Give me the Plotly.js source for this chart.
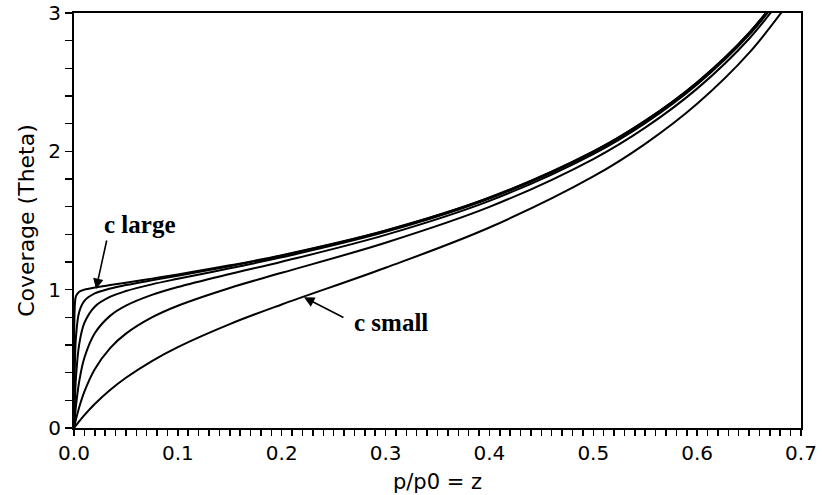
<!DOCTYPE html>
<html>
<head>
<meta charset="utf-8">
<script src="https://cdn.plot.ly/plotly-3.0.1.min.js"></script>
<style>html,body{margin:0;padding:0;background:#fff;}#chart{width:822px;height:495px;}</style>
</head>
<body>
<div id="chart"></div>
<script>
// relative pressure p/p0 = z
const z = [0, 0.001, 0.002, 0.005, 0.01, 0.02, 0.035, 0.05, 0.075, 0.1, 0.15, 0.2, 0.3, 0.4, 0.5, 0.55, 0.6, 0.65, 0.7];
// coverage (theta) for each curve, from "c small" to "c large"
const thetaC1 = [0, 0.0099, 0.0197, 0.0481, 0.0927, 0.1729, 0.2758, 0.3630, 0.4841, 0.5848, 0.7510, 0.8929, 1.1583, 1.4493, 1.8182, 2.0542, 2.3438, 2.7112, 3.1963];
const thetaC2 = [0, 0.0339, 0.0657, 0.1503, 0.2638, 0.4252, 0.5797, 0.6823, 0.7994, 0.8838, 1.0125, 1.1218, 1.3393, 1.5982, 1.9444, 2.1715, 2.4533, 2.8138, 3.2930];
const thetaC3 = [0, 0.0911, 0.1673, 0.3361, 0.5076, 0.6848, 0.8123, 0.8846, 0.9624, 1.0194, 1.1134, 1.2019, 1.3960, 1.6420, 1.9802, 2.2042, 2.4834, 2.8418, 3.3191];
const thetaC4 = [0, 0.2312, 0.3762, 0.6042, 0.7595, 0.8771, 0.9491, 0.9899, 1.0384, 1.0787, 1.1547, 1.2336, 1.4175, 1.6584, 1.9934, 2.2162, 2.4945, 2.8520, 3.3286];
const thetaC5 = [0, 0.5008, 0.6685, 0.8382, 0.9191, 0.9727, 1.0085, 1.0330, 1.0679, 1.1012, 1.1699, 1.2450, 1.4253, 1.6642, 1.9980, 2.2204, 2.4983, 2.8556, 3.3319];
const thetaC6 = [0, 0.9101, 0.9544, 0.9854, 1.0002, 1.0154, 1.0334, 1.0506, 1.0798, 1.1101, 1.1758, 1.2495, 1.4283, 1.6664, 1.9998, 2.2220, 2.4998, 2.8569, 3.3332];
const seriesList = [thetaC1, thetaC2, thetaC3, thetaC4, thetaC5, thetaC6];

const xTickVals = [0, 0.1, 0.2, 0.3, 0.4, 0.5, 0.6, 0.7];
const xTickText = ['0.0', '0.1', '0.2', '0.3', '0.4', '0.5', '0.6', '0.7'];
const yTickVals = [0, 1, 2, 3];
const yTickText = ['0', '1', '2', '3'];

const traces = seriesList.map(s => ({
  x: z, y: s, type: 'scatter', mode: 'lines',
  line: {color: '#000', width: 2, shape: 'spline', smoothing: 1},
  hoverinfo: 'skip', showlegend: false
}));

const tickFont = {family: 'DejaVu Sans, sans-serif', size: 20, color: '#000'};
const layout = {
  width: 822, height: 495,
  margin: {l: 74, r: 21, t: 13, b: 67},
  paper_bgcolor: '#fff', plot_bgcolor: '#fff',
  showlegend: false,
  xaxis: {
    range: [0, 0.7], showgrid: false, zeroline: false,
    showline: true, linecolor: '#000', linewidth: 2, mirror: true,
    ticks: 'outside', ticklen: 6, tickwidth: 1.5, tickcolor: '#000',
    tickmode: 'array', tickvals: xTickVals, ticktext: xTickText,
    minor: {dtick: 0.01, ticks: 'outside', ticklen: 6, tickwidth: 1.5, tickcolor: '#000', showgrid: false},
    tickfont: tickFont,
    title: {text: 'p/p0 = z', font: {family: 'DejaVu Sans, sans-serif', size: 21, color: '#000'}, standoff: 10}
  },
  yaxis: {
    range: [0, 3], showgrid: false, zeroline: false,
    showline: true, linecolor: '#000', linewidth: 2, mirror: true,
    ticks: 'outside', ticklen: 7, tickwidth: 1.5, tickcolor: '#000',
    tickmode: 'array', tickvals: yTickVals, ticktext: yTickText,
    minor: {dtick: 0.2, ticks: 'outside', ticklen: 7, tickwidth: 1.5, tickcolor: '#000', showgrid: false},
    tickfont: tickFont,
    title: {text: 'Coverage (Theta)', font: {family: 'DejaVu Sans, sans-serif', size: 22, color: '#000'}, standoff: 8}
  },
  annotations: [
    {xref: 'x', yref: 'y', x: 0.0212, y: 1.005, showarrow: true, ax: 11, ay: -50, axref: 'pixel', ayref: 'pixel',
     arrowhead: 2, arrowsize: 1.3, arrowwidth: 1.6, arrowcolor: '#000', standoff: 0, text: ''},
    {xref: 'x', yref: 'y', x: 0.0635, y: 1.47, showarrow: false, text: '<b>c large</b>',
     font: {family: 'Liberation Serif, serif', size: 25, color: '#000'}},
    {xref: 'x', yref: 'y', x: 0.2214, y: 0.945, showarrow: true, ax: 41, ay: 21, axref: 'pixel', ayref: 'pixel',
     arrowhead: 2, arrowsize: 1.3, arrowwidth: 1.6, arrowcolor: '#000', standoff: 0, text: ''},
    {xref: 'x', yref: 'y', x: 0.3052, y: 0.765, showarrow: false, text: '<b>c small</b>',
     font: {family: 'Liberation Serif, serif', size: 25, color: '#000'}}
  ]
};

Plotly.newPlot('chart', traces, layout, {displayModeBar: false, staticPlot: true});
</script>
</body>
</html>
